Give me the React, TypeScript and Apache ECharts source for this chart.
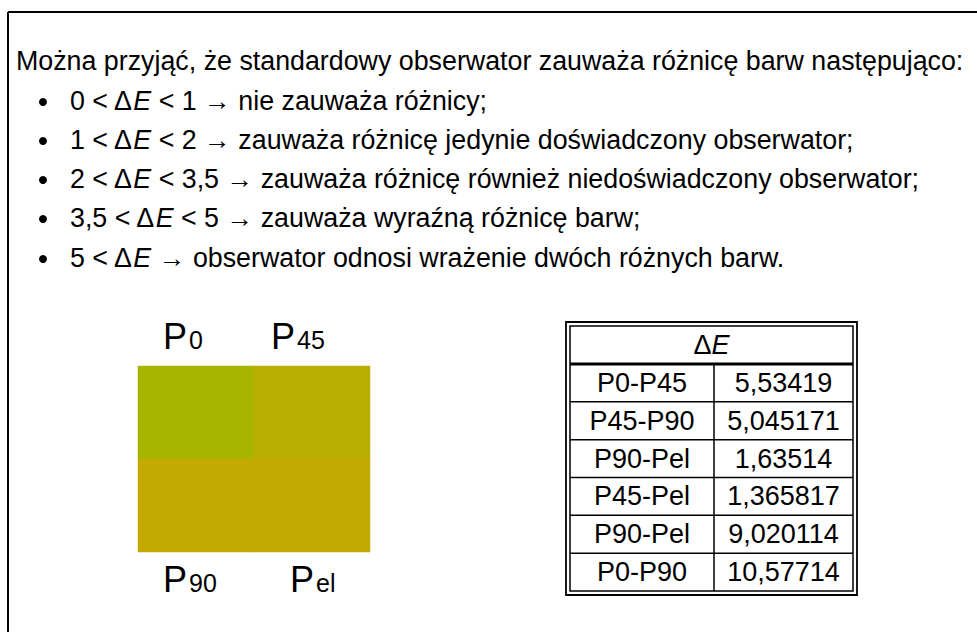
import React, { useEffect, useRef } from "react";
import * as echarts from "echarts";

const heading = "Można przyjąć, że standardowy obserwator zauważa różnicę barw następująco:";
const rulePrefix = ["0 < Δ", "1 < Δ", "2 < Δ", "3,5 < Δ", "5 < Δ"];
const ruleSuffix = [
  " < 1 → nie zauważa różnicy;",
  " < 2 → zauważa różnicę jedynie doświadczony obserwator;",
  " < 3,5 → zauważa różnicę również niedoświadczony obserwator;",
  " < 5 → zauważa wyraźną różnicę barw;",
  " → obserwator odnosi wrażenie dwóch różnych barw.",
];

const patchCols = ["c0", "c1"];
const patchRows = ["r0", "r1"];
const patchSubs = ["0", "45", "90", "el"];
const patchCells = [[0, 0], [1, 0], [0, 1], [1, 1]];
const patchColors = ["#a6b500", "#b9af00", "#c4a900", "#c2aa00"];

const pairNames = ["P0-P45", "P45-P90", "P90-Pel", "P45-Pel", "P90-Pel", "P0-P90"];
const deltaE = ["5,53419", "5,045171", "1,63514", "1,365817", "9,020114", "10,57714"];

const FONT = '"Liberation Sans", Arial, sans-serif';

export default function App() {
  const ref = useRef<HTMLDivElement>(null);
  useEffect(() => {
    if (!ref.current) return;
    const chart = echarts.init(ref.current, null, { renderer: "svg" });
    const graphic: any[] = [];
    // frame
    graphic.push({ type: "line", shape: { x1: 8, y1: 12, x2: 980, y2: 12 }, style: { stroke: "#000", lineWidth: 2 } });
    graphic.push({ type: "line", shape: { x1: 8, y1: 12, x2: 8, y2: 640 }, style: { stroke: "#000", lineWidth: 2 } });
    // heading
    graphic.push({
      type: "text", x: 16, y: 61,
      style: { text: heading, fontFamily: FONT, fontSize: 26.8, fill: "#000", verticalAlign: "middle" },
    });
    const lineY = [101, 140, 179, 218, 258];
    rulePrefix.forEach((p, i) => {
      graphic.push({ type: "circle", shape: { cx: 43, cy: lineY[i] + 1, r: 4 }, style: { fill: "#000" } });
      graphic.push({
        type: "text", x: 70, y: lineY[i],
        style: {
          text: `{n|${p}}{i|E}{n|${ruleSuffix[i]}}`,
          verticalAlign: "middle",
          rich: {
            n: { fontFamily: FONT, fontSize: 26.8, fill: "#000" },
            i: { fontFamily: FONT, fontSize: 26.8, fontStyle: "italic", fill: "#000" },
          },
        },
      });
    });
    // patch labels (smaller digits share the baseline of P)
    const labelPos = [[163, 349], [271, 349], [163, 592], [290, 592]];
    patchSubs.forEach((s, i) => {
      const [lx, baseY] = labelPos[i];
      graphic.push({
        type: "text", x: lx, y: baseY - 36 * 0.3465,
        style: { text: "P", fontFamily: FONT, fontSize: 36, fill: "#000", verticalAlign: "middle", align: "left" },
      });
      graphic.push({
        type: "text", x: lx + 26, y: baseY - 25 * 0.3465,
        style: { text: s, fontFamily: FONT, fontSize: 25, fill: "#000", verticalAlign: "middle", align: "left" },
      });
    });
    // table
    const tx0 = 566, ty0 = 322, tw = 291, th = 273;
    graphic.push({ type: "rect", shape: { x: tx0, y: ty0, width: tw, height: th }, style: { fill: "none", stroke: "#000", lineWidth: 1.8 } });
    graphic.push({ type: "rect", shape: { x: tx0 + 4, y: ty0 + 4, width: tw - 8, height: th - 8 }, style: { fill: "none", stroke: "#000", lineWidth: 1.5 } });
    const headerBottom = 364;
    graphic.push({ type: "line", shape: { x1: tx0 + 4, y1: headerBottom, x2: tx0 + tw - 4, y2: headerBottom }, style: { stroke: "#000", lineWidth: 3 } });
    const rowH = (ty0 + th - 4 - headerBottom) / pairNames.length;
    const colX = 714;
    graphic.push({ type: "line", shape: { x1: colX, y1: headerBottom, x2: colX, y2: ty0 + th - 4 }, style: { stroke: "#000", lineWidth: 1.5 } });
    graphic.push({
      type: "text", x: (tx0 + tx0 + tw) / 2, y: (ty0 + 4 + headerBottom) / 2,
      style: {
        text: "{n|Δ}{i|E}", align: "center", verticalAlign: "middle",
        rich: {
          n: { fontFamily: FONT, fontSize: 27, fill: "#000", fontStyle: "normal" },
          i: { fontFamily: FONT, fontSize: 27, fontStyle: "italic", fill: "#000" },
        },
      },
    });
    pairNames.forEach((name, i) => {
      const cy = headerBottom + rowH * (i + 0.5);
      if (i > 0) {
        graphic.push({ type: "line", shape: { x1: tx0 + 4, y1: headerBottom + rowH * i, x2: tx0 + tw - 4, y2: headerBottom + rowH * i }, style: { stroke: "#000", lineWidth: 1.5 } });
      }
      graphic.push({ type: "text", x: (tx0 + 4 + colX) / 2, y: cy, style: { text: name, fontFamily: FONT, fontSize: 27, fill: "#000", align: "center", verticalAlign: "middle" } });
      graphic.push({ type: "text", x: (colX + tx0 + tw - 4) / 2, y: cy, style: { text: deltaE[i], fontFamily: FONT, fontSize: 27, fill: "#000", align: "center", verticalAlign: "middle" } });
    });

    chart.setOption({
      animation: false,
      backgroundColor: "#fff",
      grid: { left: 138, top: 366, width: 232, height: 186 },
      xAxis: { type: "category", data: patchCols, show: false },
      yAxis: { type: "category", data: patchRows, inverse: true, show: false },
      visualMap: {
        type: "piecewise",
        show: false,
        dimension: 2,
        pieces: patchColors.map((c, i) => ({ value: i, color: c })),
      },
      series: [
        {
          type: "heatmap",
          data: patchCells.map((c, i) => [c[0], c[1], i]),
          itemStyle: { borderWidth: 0 },
          emphasis: { disabled: true },
        },
      ],
      graphic,
    });
    return () => chart.dispose();
  }, []);
  return <div ref={ref} style={{ position: "fixed", left: 0, top: 0, width: 977, height: 632 }} />;
}
